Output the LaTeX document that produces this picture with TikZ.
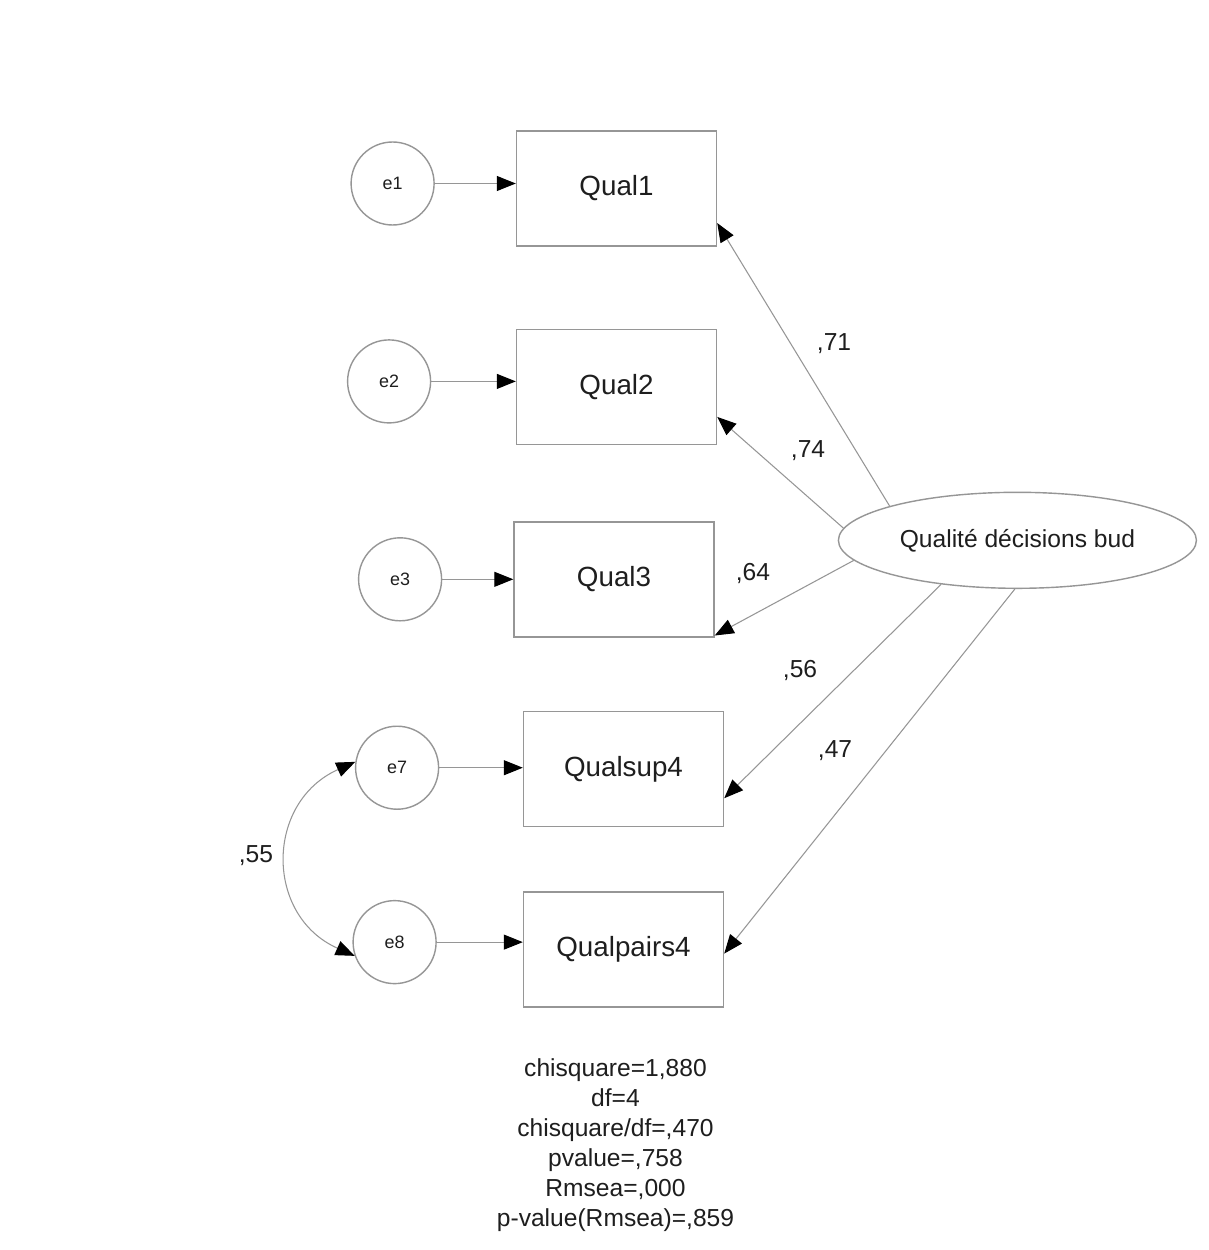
\documentclass[tikz,border=0pt]{standalone}
\usepackage{fontspec}
\setmainfont{Liberation Sans}
\usepackage{tikz}
\usetikzlibrary{shapes.geometric, positioning, arrows.meta}
\definecolor{linegray}{RGB}{150,150,150}
\definecolor{textdark}{RGB}{30,30,30}

\begin{document}
\begin{tikzpicture}[
        node distance=1cm and 1cm,
        obs/.style={draw=linegray, rectangle, minimum width=2cm, minimum height=1.15cm, inner sep=0pt, text=textdark, font=\fontsize{7.9}{9}\selectfont},
        err/.style={draw=linegray, circle, minimum size=0.83cm, inner sep=0pt, text=textdark, font=\fontsize{5.1}{6}\selectfont},
        latent/.style={draw=linegray, ellipse, minimum width=3.58cm, minimum height=0.96cm, inner sep=0pt, text=textdark, font=\fontsize{7}{8}\selectfont},
        coef/.style={anchor=base, inner sep=0pt, text=textdark, font=\fontsize{7}{8}\selectfont},
        stats/.style={align=center, anchor=north, inner sep=0pt, text=textdark, font=\fontsize{7}{8.54}\selectfont},
        arr/.style={-{Triangle[length=1.9mm, width=1.5mm, color=black]}, draw=linegray, line width=0.3pt},
        dbl/.style={{Triangle[length=1.9mm, width=1.5mm, color=black]}-{Triangle[length=1.9mm, width=1.5mm, color=black]}, draw=linegray, line width=0.3pt}
    ]
    \useasboundingbox[fill=white] (0,0) rectangle (12.08,-12.5);

    % indicators
    \node[obs] (q1) at (6.165,-1.885) {Qual1};
    \node[obs] (q2) [below=0.82cm of q1] {Qual2};
    \node[obs] (q3) [below=0.76cm of q2, xshift=-0.025cm] {Qual3};
    \node[obs] (q4) [below=0.735cm of q3, xshift=0.095cm] {Qualsup4};
    \node[obs] (q5) [below=0.64cm of q4] {Qualpairs4};

    % error terms
    \node[err] (e1) [left=0.81cm of q1, yshift=0.05cm] {e1};
    \node[err] (e2) [left=0.845cm of q2, yshift=0.055cm] {e2};
    \node[err] (e3) [left=0.71cm of q3] {e3};
    \node[err] (e7) [left=0.835cm of q4, yshift=0.015cm] {e7};
    \node[err] (e8) [left=0.86cm of q5, yshift=0.075cm] {e8};

    % latent factor
    \node[latent] (qdb) [right=1.23cm of q3, yshift=0.39cm] {Qualité décisions bud};

    \draw[arr] (e1) -- (e1 -| q1.west);
    \draw[arr] (e2) -- (e2 -| q2.west);
    \draw[arr] (e3) -- (e3 -| q3.west);
    \draw[arr] (e7) -- (e7 -| q4.west);
    \draw[arr] (e8) -- (e8 -| q5.west);

    \draw[arr] (qdb.165) -- ([yshift=-0.345cm]q1.east);
    \draw[arr] (qdb.176) -- ([yshift=-0.30cm]q2.east);
    \draw[arr] (qdb.187) -- ([yshift=0.02cm]q3.south east);
    \draw[arr] (qdb.210) -- ([yshift=-0.29cm]q4.east);
    \draw[arr] (qdb.267) -- ([yshift=-0.04cm]q5.east);

    \draw[dbl] (e7.172) to[out=204, in=156, looseness=1.3] (e8.199);

    % loadings
    \node[coef] (l1) at (8.34,-3.50) {,71};
    \node[coef] (l2) at (8.08,-4.57) {,74};
    \node[coef] (l3) at (7.53,-5.80) {,64};
    \node[coef] (l4) at (8.00,-6.77) {,56};
    \node[coef] (l5) at (8.35,-7.57) {,47};
    \node[coef] (r78) at (2.56,-8.62) {,55};

    \node[stats] (fit) [below=0.50cm of q5, xshift=-0.08cm] {chisquare=1,880\\df=4\\chisquare/df=,470\\pvalue=,758\\Rmsea=,000\\p-value(Rmsea)=,859};

\end{tikzpicture}
\end{document}
